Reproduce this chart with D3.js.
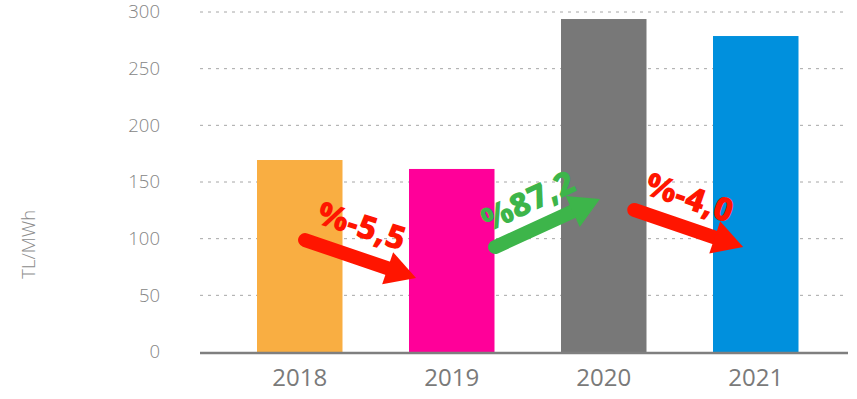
<!DOCTYPE html>
<html>
<head>
<meta charset="utf-8">
<script src="https://cdn.jsdelivr.net/npm/d3@7"></script>
<style>
  html, body { margin: 0; padding: 0; background: #fff; }
  svg { display: block; }
</style>
</head>
<body>
<svg id="chart" width="857" height="399"></svg>
<script>
// Average price per year (TL/MWh)
const years = ["2018", "2019", "2020", "2021"];
const prices = [169.4, 161.5, 293.8, 278.8];
const barColors = ["#F9AE42", "#FF0099", "#787878", "#0090DD"];
const yTicks = [0, 50, 100, 150, 200, 250, 300];

// Year-over-year change annotations: arrow from/to given as
// [fractional category position, value on the price axis]
const changeLabels = ["%-5,5", "%87,2", "%-4,0"];
const changeColors = ["#FF1500", "#3DB54A", "#FF1500"];
const arrowFrom = [[0.035, 98.8], [1.285, 92.6], [2.20, 125.3]];
const arrowTo = [[0.765, 65.3], [1.975, 135], [2.917, 92.6]];
const labelAt = [[0.41, 112], [1.50, 134], [2.567, 137]];
const labelAngle = [18, -25, 19];

const svg = d3.select("#chart");

const x = d3.scaleBand()
  .domain(years)
  .range([223.75, 831.75])
  .paddingInner(0.4375)
  .paddingOuter(0.21875);

const y = d3.scaleLinear().domain([0, 300]).range([352, 12]);

// continuous position along the category axis (0 = first bar centre)
const xAt = t => x(years[0]) + x.bandwidth() / 2 + t * x.step();

const plotLeft = 200, plotRight = 848;

// gridlines
svg.append("g")
  .selectAll("line")
  .data(yTicks.filter(d => d > 0))
  .join("line")
  .attr("x1", plotLeft).attr("x2", plotRight)
  .attr("y1", d => y(d)).attr("y2", d => y(d))
  .attr("stroke", "#a6a6a6")
  .attr("stroke-width", 1)
  .attr("stroke-dasharray", "3,5");

// y axis tick labels
const yAxis = d3.axisLeft(y).tickValues(yTicks).tickSize(0).tickPadding(0);
const gy = svg.append("g").attr("transform", "translate(160,0)").call(yAxis);
gy.select(".domain").remove();
gy.selectAll("text")
  .attr("fill", "#858585")
  .style("font-family", "'Open Sans', sans-serif")
  .style("font-weight", 300)
  .style("font-size", "18.5px");

// axis title
svg.append("text")
  .attr("transform", `translate(35,${y(95)}) rotate(-90)`)
  .attr("text-anchor", "middle")
  .attr("fill", "#8c8c8c")
  .style("font-family", "'Open Sans', sans-serif")
  .style("font-weight", 300)
  .style("font-size", "18.5px")
  .text("TL/MWh");

// bars
svg.append("g")
  .selectAll("rect")
  .data(years.map((yr, i) => ({ yr, v: prices[i], c: barColors[i] })))
  .join("rect")
  .attr("x", d => x(d.yr))
  .attr("width", x.bandwidth())
  .attr("y", d => y(d.v))
  .attr("height", d => y(0) - y(d.v))
  .attr("fill", d => d.c);

// baseline
svg.append("line")
  .attr("x1", plotLeft).attr("x2", plotRight)
  .attr("y1", y(0) + 1).attr("y2", y(0) + 1)
  .attr("stroke", "#7f7f7f")
  .attr("stroke-width", 2.5);

// x axis labels
const xAxis = d3.axisBottom(x).tickSize(0).tickPadding(0);
const gx = svg.append("g").attr("transform", `translate(0,${y(0) + 17})`).call(xAxis);
gx.select(".domain").remove();
gx.selectAll("text")
  .attr("fill", "#7a7a7a")
  .style("font-family", "'Open Sans', sans-serif")
  .style("font-weight", 400)
  .style("font-size", "24px");

// change arrows
const headLen = 30, headHalf = 17, shaft = 14;
const arrows = svg.append("g");
changeLabels.forEach((lab, i) => {
  const x0 = xAt(arrowFrom[i][0]), y0 = y(arrowFrom[i][1]);
  const x1 = xAt(arrowTo[i][0]), y1 = y(arrowTo[i][1]);
  const len = Math.hypot(x1 - x0, y1 - y0);
  const ux = (x1 - x0) / len, uy = (y1 - y0) / len;
  const bx = x1 - ux * headLen, by = y1 - uy * headLen;
  arrows.append("line")
    .attr("x1", x0).attr("y1", y0)
    .attr("x2", bx + ux * 2).attr("y2", by + uy * 2)
    .attr("stroke", changeColors[i])
    .attr("stroke-width", shaft)
    .attr("stroke-linecap", "round");
  arrows.append("path")
    .attr("d", d3.line()([
      [x1, y1],
      [bx - uy * headHalf, by + ux * headHalf],
      [bx + uy * headHalf, by - ux * headHalf]
    ]) + "Z")
    .attr("fill", changeColors[i]);

  arrows.append("text")
    .attr("transform", `translate(${xAt(labelAt[i][0])},${y(labelAt[i][1])}) rotate(${labelAngle[i]})`)
    .attr("text-anchor", "middle")
    .attr("dominant-baseline", "central")
    .attr("fill", changeColors[i])
    .style("font-family", "'Open Sans', sans-serif")
    .style("font-weight", 800)
    .style("font-size", "33px")
    .text(lab);
});
</script>
</body>
</html>
